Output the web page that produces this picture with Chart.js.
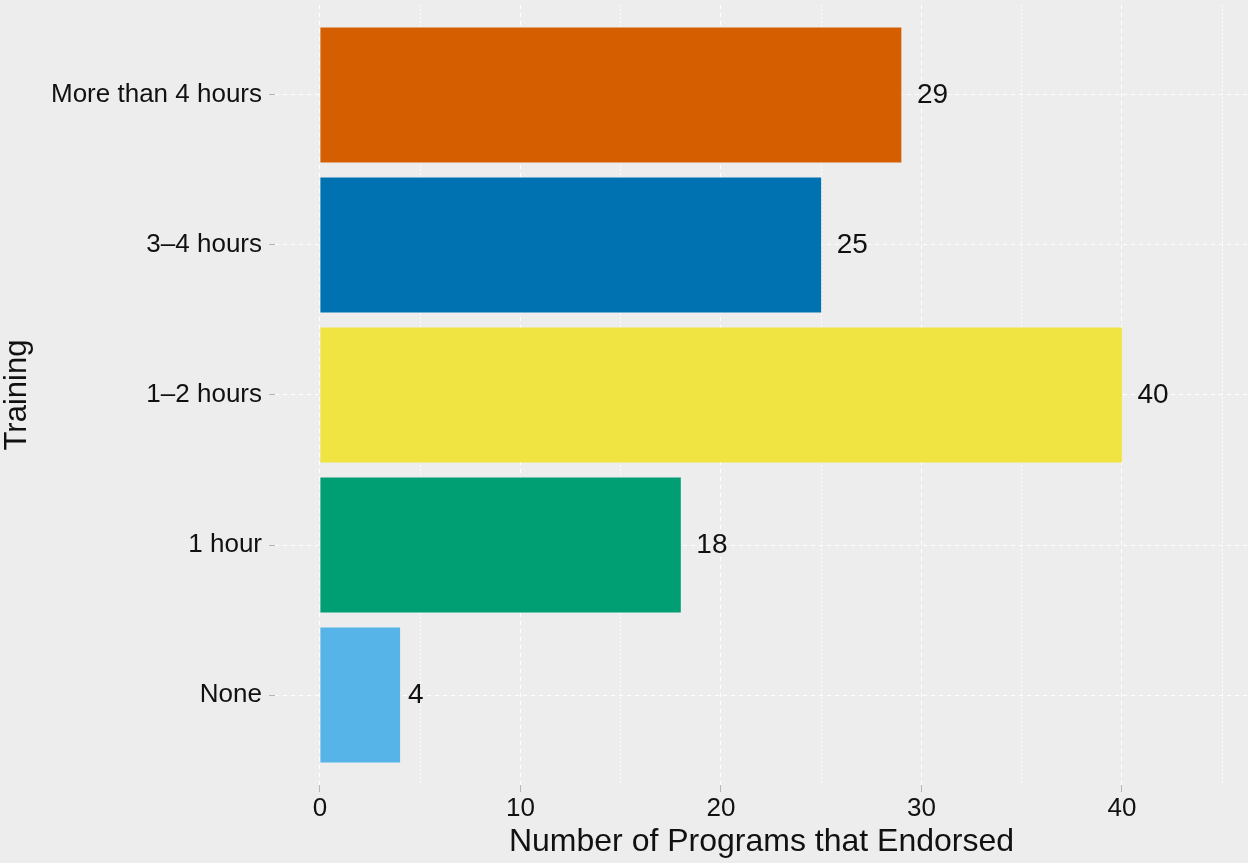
<!DOCTYPE html>
<html lang="en">
<head>
    <meta charset="UTF-8">
    <title>Training</title>
    <style>
        html, body { margin: 0; padding: 0; background: #ededed; }
        #wrap { width: 1248px; height: 863px; }
    </style>
</head>
<body>
    <div id="wrap">
        <canvas id="trainingChart" width="1248" height="863"></canvas>
    </div>
    <script src="https://cdn.jsdelivr.net/npm/chart.js@4.4.0/dist/chart.umd.min.js"></script>
    <script>
        // data, bottom to top
        var categories = ["None", "1 hour", "1\u20132 hours", "3\u20134 hours", "More than 4 hours"];
        var endorsed = [4, 18, 40, 25, 29];
        var barColors = ["#56B4E9", "#009E73", "#F0E442", "#0072B2", "#D55E00"];
        var xTicks = [0, 5, 10, 15, 20, 25, 30, 35, 40, 45];

        var fontFamily = "'Liberation Sans', Arial, Helvetica, sans-serif";

        // labels at the end of each bar (offset by half of the text width)
        var valueLabels = {
            id: 'valueLabels',
            afterDatasetsDraw: function(chart) {
                var ctx = chart.ctx;
                var meta = chart.getDatasetMeta(0);
                ctx.save();
                ctx.font = "28px " + fontFamily;
                ctx.fillStyle = "#111";
                ctx.textAlign = "left";
                ctx.textBaseline = "middle";
                meta.data.forEach(function(bar, i) {
                    var txt = String(endorsed[i]);
                    var w = ctx.measureText(txt).width;
                    ctx.fillText(txt, bar.x + w / 2, bar.y);
                });
                ctx.restore();
            }
        };

        function isMajor(v) {
            return v % 10 === 0;
        }

        var ctx = document.getElementById("trainingChart").getContext("2d");
        var chart = new Chart(ctx, {
            type: 'bar',
            data: {
                datasets: [{
                    data: endorsed.map(function(v, i) { return { x: v, y: i + 1 }; }),
                    backgroundColor: barColors,
                    borderWidth: 0,
                    categoryPercentage: 1,
                    barPercentage: 0.9
                }]
            },
            options: {
                indexAxis: 'y',
                responsive: false,
                animation: false,
                devicePixelRatio: 1,
                layout: { padding: { top: 5, right: 0, left: 0, bottom: 0 } },
                plugins: {
                    legend: { display: false },
                    tooltip: { enabled: false }
                },
                scales: {
                    x: {
                        type: 'linear',
                        min: -2.24,
                        max: 46.29,
                        afterBuildTicks: function(scale) {
                            scale.ticks = xTicks.map(function(v) { return { value: v }; });
                        },
                        afterFit: function(scale) {
                            scale.height = 78;
                            scale.paddingLeft = 0;
                            scale.paddingRight = 0;
                        },
                        ticks: {
                            autoSkip: false,
                            maxRotation: 0,
                            padding: 1,
                            color: "#111",
                            font: { family: fontFamily, size: 26 },
                            callback: function(v) { return isMajor(v) ? String(v) : ''; }
                        },
                        grid: {
                            color: "#ffffff",
                            lineWidth: function(c) { return c.tick && isMajor(c.tick.value) ? 1 : 0.8; },
                            tickLength: 7,
                            tickWidth: 1,
                            tickBorderDash: [],
                            tickColor: function(c) { return c.tick && isMajor(c.tick.value) ? "#b5b5b5" : "rgba(0,0,0,0)"; }
                        },
                        border: {
                            display: false,
                            dash: function(c) { return c.tick && isMajor(c.tick.value) ? [4, 4] : [2, 2]; }
                        },
                        title: {
                            display: true,
                            text: "Number of Programs that Endorsed",
                            color: "#111",
                            font: { family: fontFamily, size: 32 },
                            padding: { top: 0, bottom: 2 }
                        }
                    },
                    y: {
                        type: 'linear',
                        min: 0.4,
                        max: 5.6,
                        offset: false,
                        afterBuildTicks: function(scale) {
                            scale.ticks = categories.map(function(c, i) { return { value: i + 1 }; });
                        },
                        afterFit: function(scale) {
                            scale.width = 275;
                            scale.paddingTop = 0;
                            scale.paddingBottom = 0;
                        },
                        ticks: {
                            autoSkip: false,
                            padding: 7,
                            color: "#111",
                            font: { family: fontFamily, size: 26 },
                            callback: function(v) { return categories[v - 1]; }
                        },
                        grid: {
                            offset: false,
                            color: "#ffffff",
                            lineWidth: 1,
                            tickLength: 6,
                            tickWidth: 1,
                            tickBorderDash: [],
                            tickColor: "#b5b5b5"
                        },
                        border: {
                            display: false,
                            dash: [4, 4]
                        },
                        title: {
                            display: true,
                            text: "Training",
                            color: "#111",
                            font: { family: fontFamily, size: 31, lineHeight: 1.1 },
                            padding: 0
                        }
                    }
                }
            },
            plugins: [valueLabels]
        });
    </script>
</body>
</html>
